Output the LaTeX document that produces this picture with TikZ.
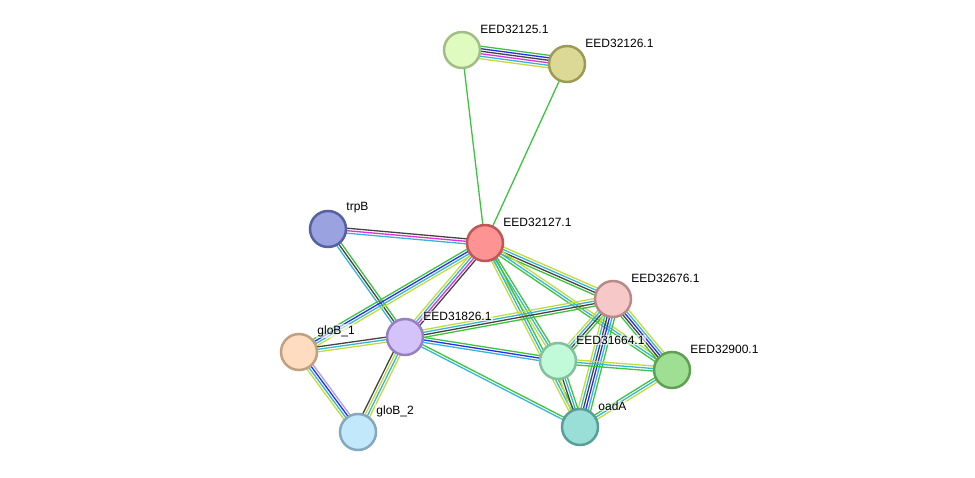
\documentclass[tikz,border=0pt]{standalone}
\usepackage{fontspec}
\setmainfont{Liberation Sans}
\usepackage{tikz,xcolor}
\usetikzlibrary{calc,backgrounds}

% evidence colours
\definecolor{txtmin}{HTML}{C2DD3A}
\definecolor{neighb}{HTML}{3CC43C}
\definecolor{coexp}{HTML}{444444}
\definecolor{cooccur}{HTML}{2A2AF5}
\definecolor{exper}{HTML}{E030E0}
\definecolor{dbase}{HTML}{36B6D6}
\definecolor{homol}{HTML}{A8A2F8}

\tikzset{
  prot/.style={circle, minimum size=36pt, inner sep=0pt, line width=2.5pt},
  lbl/.style={font=\fontsize{12}{14}\selectfont, inner sep=1pt, label distance=-2pt,
    yshift=21pt, fill=white, fill opacity=0.6, text opacity=1},
  evline/.style={line width=1.3pt}
}

\begin{document}
\begin{tikzpicture}[x=1pt,y=-1pt]
  \useasboundingbox (0,0) rectangle (975,478);

  % proteins
  \node[prot, fill={rgb,255:red,224;green,251;blue,192}, draw={rgb,255:red,163;green,189;blue,133},
    label={[lbl]east:EED32125.1}] (n125) at (462,50) {};
  \node[prot, fill={rgb,255:red,220;green,217;blue,150}, draw={rgb,255:red,157;green,154;blue,85},
    label={[lbl]east:EED32126.1}] (n126) at (567,64) {};
  \node[prot, fill={rgb,255:red,254;green,147;blue,147}, draw={rgb,255:red,192;green,86;blue,86},
    label={[lbl]east:EED32127.1}] (n127) at (485,243) {};
  \node[prot, fill={rgb,255:red,154;green,163;blue,224}, draw={rgb,255:red,85;green,97;blue,160},
    label={[lbl]east:trpB}] (trpB) at (328,229) {};
  \node[prot, fill={rgb,255:red,246;green,200;blue,200}, draw={rgb,255:red,184;green,138;blue,138},
    label={[lbl]east:EED32676.1}] (n676) at (613,299) {};
  \node[prot, fill={rgb,255:red,212;green,194;blue,251}, draw={rgb,255:red,150;green,128;blue,192},
    label={[lbl]east:EED31826.1}] (n826) at (405,337) {};
  \node[prot, fill={rgb,255:red,253;green,220;blue,191}, draw={rgb,255:red,192;green,160;blue,128},
    label={[lbl]east:gloB\_1}] (gloBa) at (299,352) {};
  \node[prot, fill={rgb,255:red,192;green,250;blue,216}, draw={rgb,255:red,131;green,192;blue,160},
    label={[lbl]east:EED31664.1}] (n664) at (558,361) {};
  \node[prot, fill={rgb,255:red,159;green,223;blue,147}, draw={rgb,255:red,96;green,160;blue,85},
    label={[lbl]east:EED32900.1}] (n900) at (672,370) {};
  \node[prot, fill={rgb,255:red,194;green,232;blue,251}, draw={rgb,255:red,133;green,168;blue,191},
    label={[lbl]east:gloB\_2}] (gloBb) at (358,432) {};
  \node[prot, fill={rgb,255:red,154;green,223;blue,215}, draw={rgb,255:red,90;green,158;blue,152},
    label={[lbl]east:oadA}] (oadA) at (580,427) {};

  % interactions, one parallel line per evidence channel
  \begin{scope}[on background layer]
  \foreach \a/\b/\cols in {
      n125/n126/{neighb,cooccur,coexp,exper,dbase,txtmin},
      n125/n127/{neighb},
      n126/n127/{neighb},
      trpB/n127/{coexp,exper,dbase},
      trpB/n826/{neighb,coexp,dbase},
      n127/n826/{coexp,exper,dbase,txtmin},
      n127/gloBa/{txtmin,dbase,cooccur,neighb},
      n127/n676/{txtmin,dbase,coexp,neighb},
      n127/n900/{txtmin,dbase,neighb},
      n127/n664/{neighb,dbase,txtmin},
      n127/oadA/{neighb,dbase,txtmin},
      gloBa/n826/{coexp,dbase,txtmin},
      gloBa/gloBb/{homol,cooccur,dbase,txtmin},
      n826/gloBb/{txtmin,dbase,txtmin,coexp},
      n826/n676/{txtmin,dbase,coexp,neighb},
      n826/n664/{neighb,cooccur,dbase},
      n826/oadA/{neighb,dbase},
      n676/n664/{neighb,coexp,dbase,txtmin},
      n676/oadA/{neighb,dbase,cooccur,coexp,dbase,txtmin},
      n676/n900/{txtmin,dbase,cooccur,coexp,neighb},
      n664/n900/{txtmin,dbase,neighb},
      n664/oadA/{neighb,dbase,coexp,txtmin},
      n900/oadA/{txtmin,dbase,neighb}} {
    \foreach \c [count=\k] in \cols {\xdef\ncols{\k}}
    \foreach \c [count=\i] in \cols {
      \pgfmathsetmacro\off{((\ncols+1)/2-\i)*2.5}
      \draw[evline,\c] ($(\a)!\off pt!90:(\b)$) -- ($(\b)!\off pt!-90:(\a)$);
    }
  }
  \end{scope}
\end{tikzpicture}
\end{document}
